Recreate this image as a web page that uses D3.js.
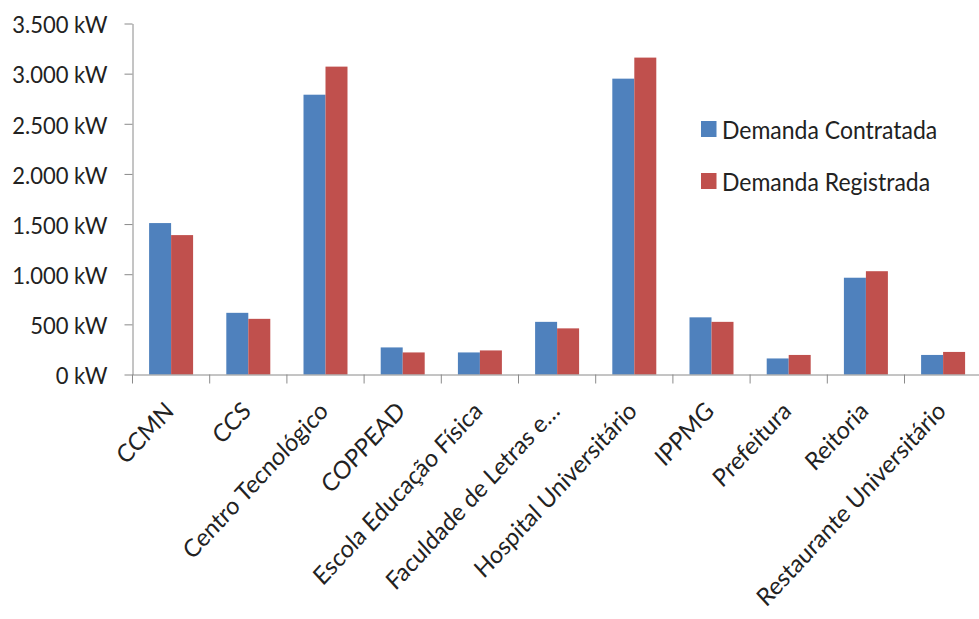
<!DOCTYPE html>
<html>
<head>
<meta charset="utf-8">
<script src="https://cdn.jsdelivr.net/npm/d3@7/dist/d3.min.js"></script>
<style>
  html, body { margin: 0; padding: 0; background: #fff; }
  svg { display: block; }
  text { font-family: Lato, "Open Sans", sans-serif; fill: #222; }
</style>
</head>
<body>
<svg id="chart" width="979" height="619"></svg>
<script>
// Campus buildings and their power demand (kW)
const categories = [
  "CCMN", "CCS", "Centro Tecnológico", "COPPEAD", "Escola Educação Física",
  "Faculdade de Letras e…", "Hospital Universitário", "IPPMG", "Prefeitura",
  "Reitoria", "Restaurante Universitário"
];
const demandaContratada = [1510, 615, 2790, 270, 220, 525, 2950, 570, 160, 965, 195];
const demandaRegistrada = [1390, 555, 3070, 220, 240, 460, 3160, 525, 195, 1030, 225];
const seriesNames = ["Demanda Contratada", "Demanda Registrada"];
const seriesColors = ["#4F81BD", "#C0504D"];
const yTicks = [0, 500, 1000, 1500, 2000, 2500, 3000, 3500];

const svg = d3.select("#chart");
const axisColor = "#8a8a8a";
const textStretch = 1.08;

const plotLeft = 132.5, plotRight = 981.7, plotTop = 23.5, plotBottom = 374.5;

const x = d3.scaleBand().domain(categories).range([plotLeft, plotRight]).padding(0);
const xs = d3.scaleBand().domain([0, 1]).range([0, x.bandwidth()])
  .paddingInner(0).paddingOuter(0.755);
const y = d3.scaleLinear().domain([0, 3500]).range([plotBottom, plotTop]);

const ptBR = d3.formatLocale({ decimal: ",", thousands: ".", grouping: [3], currency: ["R$", ""] });
const fmt = ptBR.format(",");

// Bars
const rows = categories.map((c, i) => ({ cat: c, values: [demandaContratada[i], demandaRegistrada[i]] }));
const groups = svg.append("g").selectAll("g").data(rows).join("g")
  .attr("transform", d => `translate(${x(d.cat)},0)`);
groups.selectAll("rect").data(d => d.values.map((v, k) => ({ v, k }))).join("rect")
  .attr("x", d => xs(d.k))
  .attr("width", xs.bandwidth())
  .attr("y", d => y(d.v))
  .attr("height", d => y(0) - y(d.v))
  .attr("fill", d => seriesColors[d.k]);

// Y axis
const yAxis = svg.append("g").attr("transform", `translate(${plotLeft},0)`)
  .call(d3.axisLeft(y).tickValues(yTicks).tickSize(8).tickSizeOuter(0).tickPadding(17)
    .tickFormat(d => fmt(d) + " kW"));
yAxis.select(".domain").attr("stroke", axisColor);
yAxis.selectAll(".tick line").attr("stroke", axisColor);
yAxis.selectAll(".tick text")
  .attr("font-size", 22).attr("font-family", "Lato, sans-serif").attr("fill", "#222")
  .attr("dy", null).attr("dominant-baseline", "central")
  .attr("transform", function () {
    const tx = +d3.select(this).attr("x");
    return `translate(${tx},0) scale(1,${textStretch}) translate(${-tx},0)`;
  });

// X axis: baseline and ticks at category boundaries
const xAxis = svg.append("g").attr("transform", `translate(0,${plotBottom})`)
  .call(d3.axisBottom(x).tickSize(0).tickSizeOuter(0).tickFormat(""));
xAxis.select(".domain").attr("stroke", axisColor);
xAxis.selectAll(".tick").remove();
const bounds = d3.range(categories.length + 1).map(i => plotLeft + i * x.step());
xAxis.selectAll("line.bound").data(bounds).join("line")
  .attr("class", "bound")
  .attr("x1", d => d).attr("x2", d => d)
  .attr("y1", 0).attr("y2", 9)
  .attr("stroke", axisColor);

// Rotated category labels
svg.append("g").selectAll("text").data(categories).join("text")
  .attr("transform", d => `translate(${x(d) + x.bandwidth() / 2 + 4},${plotBottom + 38}) scale(1,${textStretch}) rotate(-45)`)
  .attr("text-anchor", "end")
  .attr("font-size", 23)
  .text(d => d);

// Legend
const legend = svg.append("g");
const legendItems = legend.selectAll("g").data(seriesNames).join("g")
  .attr("transform", (d, i) => `translate(701,${121 + i * 52})`);
legendItems.append("rect").attr("width", 15.5).attr("height", 16)
  .attr("fill", (d, i) => seriesColors[i]);
legendItems.append("text")
  .attr("x", 21).attr("y", 8).attr("dominant-baseline", "central")
  .attr("transform", `translate(0,8) scale(1,${textStretch}) translate(0,-8)`)
  .attr("font-size", 23)
  .text(d => d);
</script>
</body>
</html>
